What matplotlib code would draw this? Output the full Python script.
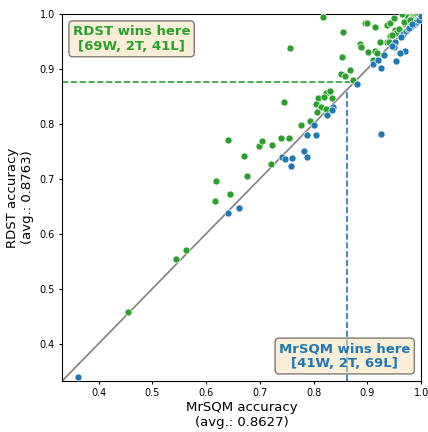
import matplotlib
matplotlib.use("Agg")
import matplotlib.pyplot as plt

# accuracies (MrSQM on x, RDST on y)
rdst_win_x = [0.817, 0.895, 0.899, 0.914, 0.936, 0.942, 0.949, 0.964, 0.976, 0.981,
              0.978, 0.975, 0.970, 0.854, 0.756, 0.951, 0.954, 0.942, 0.936, 0.940,
              0.924, 0.887, 0.888, 0.901, 0.915, 0.917, 0.852, 0.910, 0.868, 0.851,
              0.858, 0.873, 0.823, 0.831, 0.809, 0.820, 0.834, 0.745, 0.804, 0.814,
              0.806, 0.823, 0.793, 0.776, 0.740, 0.754, 0.640, 0.699, 0.704, 0.723,
              0.671, 0.720, 0.676, 0.619, 0.645, 0.617, 0.562, 0.544, 0.454,
              0.985, 0.990, 0.987, 0.993, 0.982, 0.968, 0.958, 0.946, 0.996, 0.979]
rdst_win_y = [0.994, 0.983, 0.983, 0.976, 0.980, 0.983, 0.992, 0.999, 0.995, 0.992,
              0.985, 0.982, 0.981, 0.967, 0.938, 0.970, 0.966, 0.959, 0.948, 0.948,
              0.948, 0.946, 0.939, 0.931, 0.933, 0.929, 0.921, 0.916, 0.897, 0.890,
              0.887, 0.880, 0.856, 0.859, 0.847, 0.849, 0.846, 0.839, 0.836, 0.830,
              0.822, 0.827, 0.805, 0.797, 0.775, 0.775, 0.771, 0.760, 0.768, 0.762,
              0.742, 0.727, 0.705, 0.695, 0.672, 0.660, 0.571, 0.554, 0.457,
              0.997, 0.998, 0.994, 0.999, 0.990, 0.986, 0.972, 0.962, 0.999, 0.989]

mrsqm_win_x = [0.362, 0.641, 0.661, 0.741, 0.747, 0.760, 0.757, 0.782, 0.788, 0.788,
               0.805, 0.801, 0.824, 0.836, 0.834, 0.926, 0.880, 0.911, 0.926, 0.920,
               0.930, 0.954, 0.970, 0.960, 0.952, 0.950, 0.946, 0.967, 0.972, 0.981,
               0.994, 0.988, 0.997, 0.985, 0.990, 0.975, 0.996, 0.978, 0.999, 0.962, 0.983]
mrsqm_win_y = [0.339, 0.638, 0.646, 0.739, 0.735, 0.738, 0.723, 0.750, 0.740, 0.780,
               0.779, 0.797, 0.816, 0.831, 0.825, 0.782, 0.872, 0.908, 0.901, 0.916,
               0.926, 0.914, 0.933, 0.928, 0.948, 0.940, 0.941, 0.964, 0.969, 0.976,
               0.990, 0.982, 0.993, 0.979, 0.986, 0.972, 0.988, 0.975, 0.996, 0.958, 0.981]

tie_x = [1.0, 1.0]
tie_y = [1.0, 1.0]

avg_mrsqm = 0.8627
avg_rdst = 0.8763
rdst_counts = "[69W, 2T, 41L]"
mrsqm_counts = "[41W, 2T, 69L]"
lim_lo = 0.332

fig = plt.figure(figsize=(4.28, 4.32), dpi=100)
ax = fig.add_axes([0.145, 0.118, 0.839, 0.850])

ax.plot([0, 1], [0, 1], color="gray", lw=1.2, zorder=1)

dot = dict(s=26, edgecolor="white", linewidth=0.5, zorder=3)
ax.scatter(tie_x, tie_y, color="tab:orange", **dot)
ax.scatter(rdst_win_x, rdst_win_y, color="tab:green", **dot)
ax.scatter(mrsqm_win_x, mrsqm_win_y, color="tab:blue", **dot)

# average lines
ax.plot([avg_mrsqm, avg_mrsqm], [lim_lo, avg_mrsqm], color="tab:blue", ls="--", lw=1.2, zorder=2)
ax.plot([lim_lo, avg_rdst], [avg_rdst, avg_rdst], color="tab:green", ls="--", lw=1.2, zorder=2)

ax.set_xlim(lim_lo, 1.0)
ax.set_ylim(lim_lo, 1.0)
ax.set_xticks([0.4, 0.5, 0.6, 0.7, 0.8, 0.9, 1.0])
ax.set_yticks([0.4, 0.5, 0.6, 0.7, 0.8, 0.9, 1.0])
ax.tick_params(labelsize=7, length=2.5, pad=2.5)

ax.set_xlabel("MrSQM accuracy\n(avg.: %.4f)" % avg_mrsqm, fontsize=9.5, labelpad=2)
ax.set_ylabel("RDST accuracy\n(avg.: %.4f)" % avg_rdst, fontsize=9.5, labelpad=4)

box = dict(boxstyle="round", facecolor="wheat", alpha=0.5)
ax.text(0.03, 0.97, "RDST wins here\n" + rdst_counts, transform=ax.transAxes,
        ha="left", va="top", multialignment="center", fontsize=9.5,
        fontweight="bold", color="tab:green", bbox=box, zorder=5)
ax.text(0.97, 0.03, "MrSQM wins here\n" + mrsqm_counts, transform=ax.transAxes,
        ha="right", va="bottom", multialignment="center", fontsize=9.5,
        fontweight="bold", color="tab:blue", bbox=box, zorder=5)

fig.savefig("out.png", dpi=100)
